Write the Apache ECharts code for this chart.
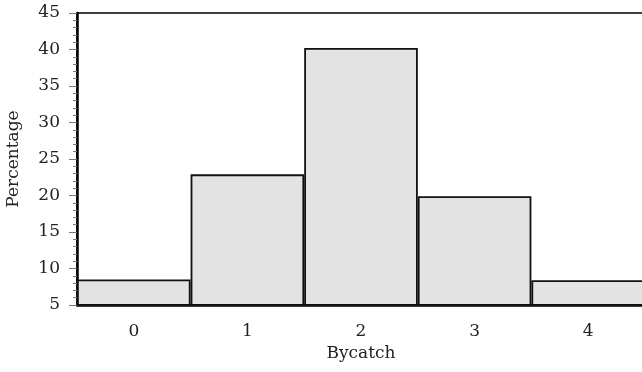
<!DOCTYPE html>
<html><head><meta charset="utf-8">
<script src="https://cdn.jsdelivr.net/npm/echarts@6/dist/echarts.min.js"></script>
<style>html,body{margin:0;padding:0;background:#fff}#c{width:642px;height:372px}</style>
</head><body><div id="c"></div>
<script>
const categories = ['0','1','2','3','4'];
const percentages = [8.5, 22.9, 40.2, 19.9, 8.4];
const yTicks = [5, 10, 15, 20, 25, 30, 35, 40, 45];

const chart = echarts.init(document.getElementById('c'));
const font = 'DejaVu Serif';
chart.setOption({
  animation: false,
  grid: {left: 77, width: 568, top: 13, height: 292, outerBoundsMode: 'none', containLabel: false, show: true, borderColor: '#000', borderWidth: 1.5, backgroundColor: 'transparent'},
  xAxis: {
    type: 'category', data: categories,
    name: 'Bycatch', nameLocation: 'middle', nameGap: 39,
    nameTextStyle: {fontFamily: font, fontSize: 17, color: '#222'},
    axisLine: {lineStyle: {color: '#000', width: 2.5}},
    axisTick: {alignWithLabel: true, length: 6, lineStyle: {color: '#888', width: 1.5}},
    axisLabel: {fontFamily: font, fontSize: 17, color: '#222', margin: 18}
  },
  yAxis: {
    type: 'value', min: yTicks[0], max: yTicks[yTicks.length-1], interval: 5,
    name: 'Percentage', nameLocation: 'middle', nameGap: 55,
    nameTextStyle: {fontFamily: font, fontSize: 17, color: '#222'},
    axisLine: {show: true, lineStyle: {color: '#000', width: 2.5}},
    axisTick: {show: true, length: 8, lineStyle: {color: '#777', width: 1}},
    minorTick: {show: true, splitNumber: 5, length: 4, lineStyle: {color: '#777', width: 1}},
    splitLine: {show: false},
    axisLabel: {fontFamily: font, fontSize: 17, color: '#222', margin: 17}
  },
  series: [{
    type: 'bar', data: percentages, barWidth: '100%',
    itemStyle: {color: '#e3e3e3', borderColor: '#111', borderWidth: 1.8}
  }]
});
</script></body></html>
